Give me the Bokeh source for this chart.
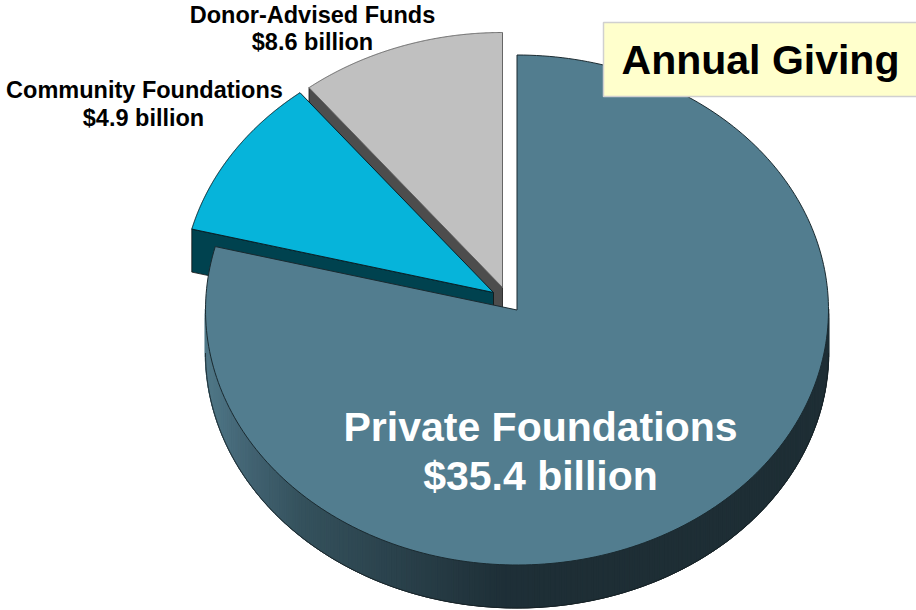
import numpy as np
from bokeh.plotting import figure
from bokeh.models import Range1d
from bokeh.core.properties import value
from bokeh.embed import file_html
from bokeh.resources import INLINE

# Slice sweep (degrees), clockwise from 12 o'clock
categories = ["Private Foundations", "Community Foundations", "Donor-Advised Funds"]
amounts = ["$35.4 billion", "$4.9 billion", "$8.6 billion"]
slice_degrees = [284.4, 37.2, 38.4]
title = "Annual Giving"

# Picture-space canvas
W, H = 916, 610
p = figure(width=W, height=H, output_backend="svg", toolbar_location=None,
           x_range=Range1d(0, W), y_range=Range1d(H, 0),
           min_border=0, min_border_left=0, min_border_right=0,
           min_border_top=0, min_border_bottom=0,
           background_fill_color="white", border_fill_color="white")
p.axis.visible = False
p.grid.visible = False
p.outline_line_color = None

RX, RY, DEPTH = 311.5, 255.0, 43.0
centres = [(516.5, 309.5), (493.0, 292.0), (502.0, 287.0)]
tops = ["#527d8f", "#06b4da", "#c0c0c0"]
walls = ["#1e2e35", "#00424f", "#4d4d4d"]
edges = ["#1a2a30", "#06222a", "#666666"]

edges_deg = np.concatenate([[0.0], np.cumsum(slice_degrees)])


def ell(c, deg):
    t = np.radians(deg)
    return c[0] + RX * np.sin(t), c[1] - RY * np.cos(t)


def wedge(c, a0, a1):
    d = np.linspace(a0, a1, 240)
    x, y = ell(c, d)
    return np.r_[c[0], x, c[0]], np.r_[c[1], y, c[1]]


# Donor and community slices, with the wall of their left cut edge
for i in (2, 1):
    c = centres[i]
    a0, a1 = edges_deg[i], edges_deg[i + 1]
    ex, ey = ell(c, a0)
    p.patch([c[0], ex, ex, c[0]], [c[1], ey, ey + DEPTH, c[1] + DEPTH],
            fill_color=walls[i], line_color="#111111", line_width=0.8)
    x, y = wedge(c, a0, a1)
    p.patch(x, y, fill_color=tops[i], line_color=edges[i], line_width=1)

# Private Foundations rim: shaded from left to right
c = centres[0]
d = np.linspace(90, 270, 181)
rx_, ry_ = ell(c, d)
stop_x = [205, 250, 300, 400, 500, 600]
stop_r = [0x50, 0x42, 0x35, 0x2a, 0x1f, 0x1e]
stop_g = [0x78, 0x63, 0x52, 0x41, 0x30, 0x2e]
stop_b = [0x88, 0x72, 0x5d, 0x4b, 0x38, 0x35]
# solid silhouette first, then overlapping colour bands from right to left
p.patch(np.r_[rx_, rx_[::-1]], np.r_[ry_, (ry_ + DEPTH)[::-1]], fill_color="#1e2e35",
        line_color="#141e22", line_width=1)
xs, ys, cols = [], [], []
for k in range(len(d) - 1):
    xs.append([rx_[k], rx_[k + 1], rx_[k + 1], rx_[k]])
    ys.append([ry_[k] - 1, ry_[k + 1] - 1, ry_[k + 1] + DEPTH - 0.5, ry_[k] + DEPTH - 0.5])
    xm = 0.5 * (rx_[k] + rx_[k + 1])
    cols.append("#%02x%02x%02x" % (int(np.interp(xm, stop_x, stop_r)),
                                   int(np.interp(xm, stop_x, stop_g)),
                                   int(np.interp(xm, stop_x, stop_b))))
p.patches(xs, ys, fill_color=cols, line_color=cols, line_width=1.6)
p.line(rx_, ry_ + DEPTH, line_color="#141e22", line_width=0.8)

# Private Foundations top
x, y = wedge(c, edges_deg[0], edges_deg[1])
p.patch(x, y, fill_color=tops[0], line_color=edges[0], line_width=1)

# Title box
p.quad(left=[603], right=[918], top=[22], bottom=[96],
       fill_color="#ffffcc", line_color="#d0d0d0", line_width=1.5)

FONT = value("Liberation Sans")
p.text(x=[760], y=[59], text=[title], text_font=FONT, text_font_style="bold",
       text_font_size="41px", text_color="#000000", text_align="center",
       text_baseline="alphabetic")
p.text(x=[540, 540], y=[426, 475], text=[categories[0], amounts[0]], text_font=FONT,
       text_font_style="bold", text_font_size="41px", text_color="#ffffff",
       text_align="center", text_baseline="alphabetic")
p.text(x=[144, 143], y=[89, 117], text=[categories[1], amounts[1]], text_font=FONT,
       text_font_style="bold", text_font_size="23.5px", text_color="#000000",
       text_align="center", text_baseline="alphabetic")
p.text(x=[312, 312], y=[14, 41], text=[categories[2], amounts[2]], text_font=FONT,
       text_font_style="bold", text_font_size="23.5px", text_color="#000000",
       text_align="center", text_baseline="alphabetic")

open("out.html", "w").write(file_html(p, INLINE))
